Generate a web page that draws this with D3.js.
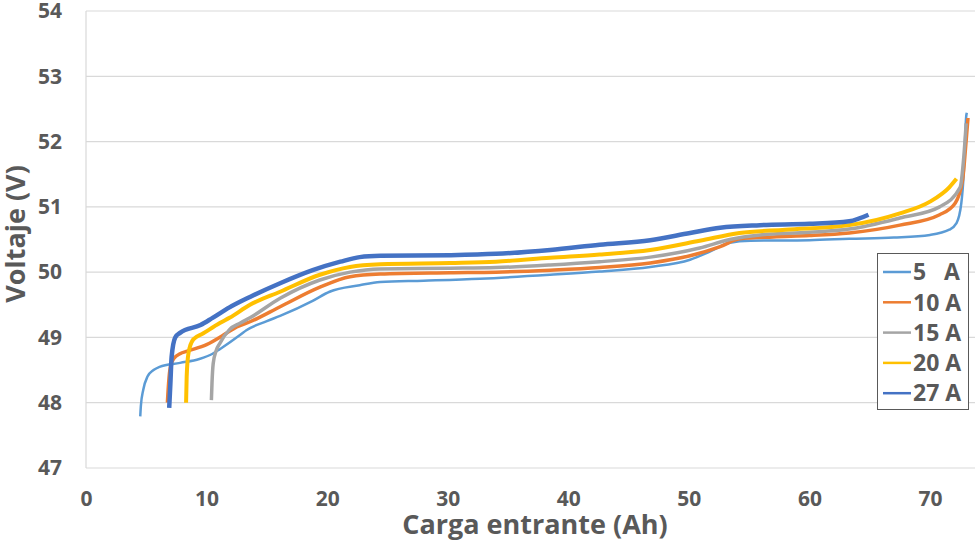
<!DOCTYPE html>
<html>
<head>
<meta charset="utf-8">
<script src="https://cdn.jsdelivr.net/npm/d3@7"></script>
<style>
  html, body { margin: 0; padding: 0; background: #fff; }
  svg text { font-family: "Open Sans", "Noto Sans", sans-serif; font-weight: 700; fill: #595959; }
</style>
</head>
<body>
<svg id="chart" width="975" height="542"></svg>
<script>
// Charge (Ah) / voltage (V) readings per charging current
const seriesNames = ["5   A", "10 A", "15 A", "20 A", "27 A"];
const seriesColors = ["#5B9BD5", "#ED7D31", "#A5A5A5", "#FFC000", "#4472C4"];

const curve5A = [
  [4.5,47.79],[4.55,47.95],[4.75,48.2],[5.1,48.4],[5.6,48.5],[6.1,48.55],[7.8,48.61],
  [9.4,48.67],[10.5,48.75],[11.1,48.82],[12.8,49.04],[13.3,49.11],[15,49.25],[16.1,49.33],
  [18.8,49.56],[20.2,49.70],[22.7,49.80],[24.4,49.85],[28,49.87],[32.7,49.90],[38.5,49.96],
  [42.6,50.01],[46.8,50.08],[50.1,50.19],[51.7,50.31],[53.4,50.45],[55.1,50.48],[60,50.49],
  [63.3,50.51],[67,50.53],[70,50.57],[71.6,50.65],[72.2,50.75],[72.6,51.06],[72.8,51.52],
  [73.0,52.38],[73.05,52.44]
];
const curve10A = [
  [6.75,48.0],[6.85,48.3],[7.0,48.55],[7.3,48.68],[7.8,48.75],[8.4,48.79],[10,48.89],
  [11.7,49.07],[12.5,49.16],[13.6,49.24],[16.1,49.47],[19.4,49.77],[21.9,49.93],[24.4,49.97],
  [30.2,49.99],[34,50.0],[38.5,50.03],[42.6,50.07],[46.8,50.14],[50.1,50.25],[52.6,50.39],
  [54.2,50.51],[57,50.54],[60,50.56],[63.3,50.6],[67.5,50.72],[70.8,50.88],[72.1,51.06],
  [72.7,51.41],[73.0,52.02],[73.15,52.36]
];
const curve15A = [
  [10.4,48.04],[10.45,48.3],[10.55,48.6],[10.8,48.8],[11.1,48.91],[11.9,49.12],[12.8,49.22],
  [13.6,49.3],[16.1,49.6],[19.4,49.88],[21.9,50.0],[24.4,50.05],[30.2,50.06],[34,50.07],
  [38.5,50.11],[42.6,50.16],[46.8,50.23],[50.9,50.37],[53.4,50.5],[55.9,50.57],[60,50.61],
  [63.3,50.66],[67.5,50.83],[70.8,51.0],[72.5,51.3],[72.8,51.76],[73.0,52.28]
];
const curve20A = [
  [8.3,48.0],[8.35,48.4],[8.5,48.76],[8.9,48.97],[9.7,49.06],[11.1,49.22],[11.9,49.3],
  [13.6,49.5],[16.1,49.70],[19.4,49.96],[21.9,50.08],[24.4,50.12],[30.2,50.14],[34,50.16],
  [38.5,50.22],[42.6,50.27],[46.8,50.34],[50.9,50.48],[54.2,50.6],[58,50.65],[63.3,50.72],
  [67.5,50.9],[70,51.08],[71.6,51.3],[72.2,51.43]
];
const curve27A = [
  [6.9,47.92],[7.0,48.3],[7.1,48.7],[7.4,49.0],[7.8,49.07],[9.5,49.19],[10.5,49.3],
  [11.9,49.46],[13.6,49.62],[16.1,49.83],[18.8,50.03],[21.1,50.16],[22.7,50.23],[24.4,50.25],
  [30.2,50.26],[34,50.28],[38.5,50.34],[42.6,50.42],[46.8,50.49],[50.1,50.6],[52.6,50.68],
  [55.9,50.72],[60,50.74],[63.3,50.78],[64.9,50.88]
];
const seriesData = [curve5A, curve10A, curve15A, curve20A, curve27A];
const seriesWidths = [2.5, 3.5, 3.5, 4, 4.5];

const xTicks = [0, 10, 20, 30, 40, 50, 60, 70];
const yTicks = [47, 48, 49, 50, 51, 52, 53, 54];

const svg = d3.select("#chart");
const plotLeft = 86, plotTop = 11, plotBottom = 468;
const pxPerAh = (930 - 86) / 70;

const x = d3.scaleLinear().domain([0, 80]).range([plotLeft, plotLeft + 80 * pxPerAh]);
const y = d3.scaleLinear().domain([47, 54]).range([plotBottom, plotTop]);

// horizontal gridlines
svg.append("g")
  .selectAll("line")
  .data(yTicks)
  .join("line")
  .attr("x1", plotLeft).attr("x2", 975)
  .attr("y1", d => y(d)).attr("y2", d => y(d))
  .attr("stroke", "#d9d9d9").attr("stroke-width", 1.2);

// left axis line
svg.append("line")
  .attr("x1", plotLeft).attr("x2", plotLeft)
  .attr("y1", y(54)).attr("y2", y(47))
  .attr("stroke", "#d9d9d9").attr("stroke-width", 1.2);

// y tick labels
const yAxis = d3.axisLeft(y).tickValues(yTicks).tickFormat(d3.format("d"))
  .tickSize(0).tickPadding(24);
const gy = svg.append("g").attr("transform", `translate(${plotLeft},0)`).call(yAxis);
gy.select(".domain").remove();
gy.selectAll("text").style("font-size", "21px").attr("fill", "#595959")
  .style("font-family", '"Open Sans", sans-serif').style("font-weight", 700);

// x tick labels
const xAxis = d3.axisBottom(x).tickValues(xTicks).tickFormat(d3.format("d"))
  .tickSize(0).tickPadding(23);
const gx = svg.append("g").attr("transform", `translate(0,${plotBottom})`).call(xAxis);
gx.select(".domain").remove();
gx.selectAll("text").style("font-size", "21px").attr("fill", "#595959")
  .style("font-family", '"Open Sans", sans-serif').style("font-weight", 700);

// curves
const line = d3.line()
  .x(d => x(d[0]))
  .y(d => y(d[1]))
  .curve(d3.curveMonotoneX);

svg.append("g")
  .selectAll("path")
  .data(seriesData)
  .join("path")
  .attr("d", line)
  .attr("fill", "none")
  .attr("stroke", (d, i) => seriesColors[i])
  .attr("stroke-width", (d, i) => seriesWidths[i])
  .attr("stroke-linejoin", "round")
  .attr("stroke-linecap", "butt");

// axis titles
svg.append("text")
  .attr("x", 535).attr("y", 534)
  .attr("text-anchor", "middle")
  .style("font-size", "27px")
  .text("Carga entrante (Ah)");

svg.append("text")
  .attr("transform", "translate(25,234) rotate(-90)")
  .attr("text-anchor", "middle")
  .style("font-size", "27px")
  .text("Voltaje (V)");

// legend
const legend = svg.append("g");
legend.append("rect")
  .attr("x", 877.5).attr("y", 253.5)
  .attr("width", 91).attr("height", 156)
  .attr("fill", "#fff").attr("stroke", "#595959").attr("stroke-width", 1);

const rows = legend.selectAll("g.row")
  .data(seriesNames)
  .join("g")
  .attr("class", "row")
  .attr("transform", (d, i) => `translate(0,${272 + i * 30.3})`);
rows.append("line")
  .attr("x1", 883).attr("x2", 911)
  .attr("stroke", (d, i) => seriesColors[i])
  .attr("stroke-width", 2.5);
rows.append("text")
  .attr("x", 913).attr("dy", "0.36em")
  .style("font-size", "23px")
  .style("white-space", "pre")
  .text(d => d);
</script>
</body>
</html>
